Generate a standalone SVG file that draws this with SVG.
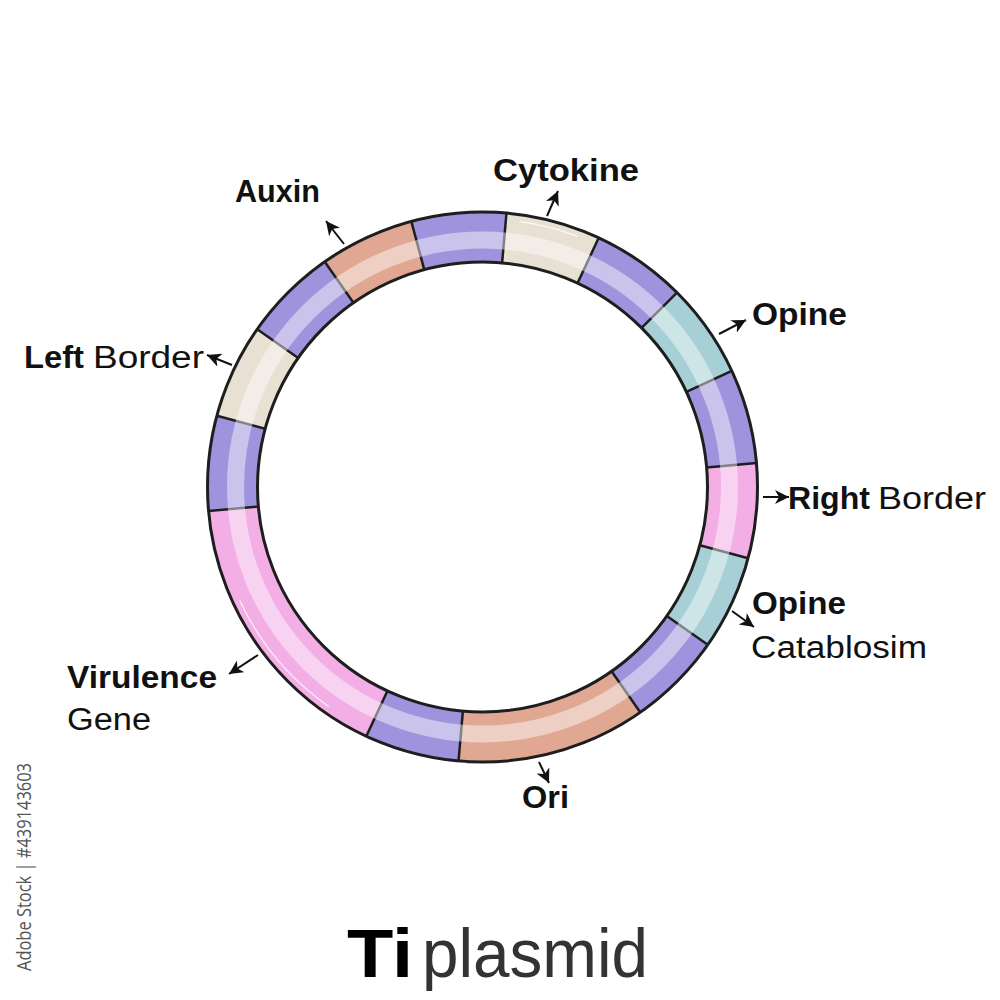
<svg xmlns="http://www.w3.org/2000/svg" width="1000" height="1000" viewBox="0 0 1000 1000">
<defs>
<style>
.seg{fill:none;stroke-width:50}
.pu{stroke:#9f93dd}.pk{stroke:#f3aee6}.te{stroke:#a7cfd6}.or{stroke:#e0a893}.be{stroke:#e7e0d3}
.bd{stroke:#1e1e1e;stroke-width:2.5}
.t{font-family:"Liberation Sans",Arial,Helvetica,sans-serif;font-size:31px;fill:#111}
.b{font-weight:bold}
.r{font-weight:normal}
.arr{stroke:#111;stroke-width:2;fill:none;marker-end:url(#ah)}
</style>
<marker id="ah" markerWidth="15" markerHeight="14" refX="14" refY="7" orient="auto" markerUnits="userSpaceOnUse">
<path d="M0,0 L14,7 L0,14 L4,7 z" fill="#111"/>
</marker>
</defs>
<rect width="1000" height="1000" fill="#ffffff"/>

<g id="ring">
<g id="segments">
<circle class="seg pk" cx="482.5" cy="487" r="250" stroke-dasharray="87.8 2000" transform="rotate(-5 482.5 487)"/>
<circle class="seg te" cx="482.5" cy="487" r="250" stroke-dasharray="87.8 2000" transform="rotate(15 482.5 487)"/>
<circle class="seg pu" cx="482.5" cy="487" r="250" stroke-dasharray="87.8 2000" transform="rotate(35 482.5 487)"/>
<circle class="seg or" cx="482.5" cy="487" r="250" stroke-dasharray="175 2000" transform="rotate(55 482.5 487)"/>
<circle class="seg pu" cx="482.5" cy="487" r="250" stroke-dasharray="87.8 2000" transform="rotate(95 482.5 487)"/>
<circle class="seg pk" cx="482.5" cy="487" r="250" stroke-dasharray="262.3 2000" transform="rotate(115 482.5 487)"/>
<circle class="seg pu" cx="482.5" cy="487" r="250" stroke-dasharray="87.8 2000" transform="rotate(175 482.5 487)"/>
<circle class="seg be" cx="482.5" cy="487" r="250" stroke-dasharray="87.8 2000" transform="rotate(195 482.5 487)"/>
<circle class="seg pu" cx="482.5" cy="487" r="250" stroke-dasharray="87.8 2000" transform="rotate(215 482.5 487)"/>
<circle class="seg or" cx="482.5" cy="487" r="250" stroke-dasharray="87.8 2000" transform="rotate(235 482.5 487)"/>
<circle class="seg pu" cx="482.5" cy="487" r="250" stroke-dasharray="87.8 2000" transform="rotate(255 482.5 487)"/>
<circle class="seg be" cx="482.5" cy="487" r="250" stroke-dasharray="87.8 2000" transform="rotate(275 482.5 487)"/>
<circle class="seg pu" cx="482.5" cy="487" r="250" stroke-dasharray="87.8 2000" transform="rotate(295 482.5 487)"/>
<circle class="seg te" cx="482.5" cy="487" r="250" stroke-dasharray="87.8 2000" transform="rotate(315 482.5 487)"/>
<circle class="seg pu" cx="482.5" cy="487" r="250" stroke-dasharray="87.8 2000" transform="rotate(335 482.5 487)"/>
</g>
<g id="boundaries">
<line class="bd" x1="707.5" y1="487" x2="757.5" y2="487" transform="rotate(-5 482.5 487)"/>
<line class="bd" x1="707.5" y1="487" x2="757.5" y2="487" transform="rotate(15 482.5 487)"/>
<line class="bd" x1="707.5" y1="487" x2="757.5" y2="487" transform="rotate(35 482.5 487)"/>
<line class="bd" x1="707.5" y1="487" x2="757.5" y2="487" transform="rotate(55 482.5 487)"/>
<line class="bd" x1="707.5" y1="487" x2="757.5" y2="487" transform="rotate(95 482.5 487)"/>
<line class="bd" x1="707.5" y1="487" x2="757.5" y2="487" transform="rotate(115 482.5 487)"/>
<line class="bd" x1="707.5" y1="487" x2="757.5" y2="487" transform="rotate(175 482.5 487)"/>
<line class="bd" x1="707.5" y1="487" x2="757.5" y2="487" transform="rotate(195 482.5 487)"/>
<line class="bd" x1="707.5" y1="487" x2="757.5" y2="487" transform="rotate(215 482.5 487)"/>
<line class="bd" x1="707.5" y1="487" x2="757.5" y2="487" transform="rotate(235 482.5 487)"/>
<line class="bd" x1="707.5" y1="487" x2="757.5" y2="487" transform="rotate(255 482.5 487)"/>
<line class="bd" x1="707.5" y1="487" x2="757.5" y2="487" transform="rotate(275 482.5 487)"/>
<line class="bd" x1="707.5" y1="487" x2="757.5" y2="487" transform="rotate(295 482.5 487)"/>
<line class="bd" x1="707.5" y1="487" x2="757.5" y2="487" transform="rotate(315 482.5 487)"/>
<line class="bd" x1="707.5" y1="487" x2="757.5" y2="487" transform="rotate(335 482.5 487)"/>
</g>
<circle id="stripe" cx="482.5" cy="487" r="247" fill="none" stroke="#ffffff" stroke-width="17" stroke-opacity="0.45"/>
<circle id="gloss1" cx="482.5" cy="487" r="268" fill="none" stroke="#ffffff" stroke-width="1.5" stroke-opacity="0.7" stroke-dasharray="60 2000" transform="rotate(278 482.5 487)"/>
<circle id="gloss2" cx="482.5" cy="487" r="268" fill="none" stroke="#ffffff" stroke-width="1.5" stroke-opacity="0.7" stroke-dasharray="140 2000" transform="rotate(125 482.5 487)"/>
<circle id="outer" cx="482.5" cy="487" r="275" fill="none" stroke="#1e1e1e" stroke-width="3"/>
<circle id="inner" cx="482.5" cy="487" r="225" fill="none" stroke="#1e1e1e" stroke-width="3"/>
</g>

<g id="connectors">
<line class="arr" x1="344" y1="244" x2="326" y2="221"/>
<line class="arr" x1="232" y1="365" x2="207" y2="355"/>
<line class="arr" x1="547" y1="216" x2="558" y2="191"/>
<line class="arr" x1="719" y1="334" x2="746" y2="320"/>
<line class="arr" x1="763" y1="497" x2="789" y2="497"/>
<line class="arr" x1="732" y1="611" x2="754" y2="627"/>
<line class="arr" x1="539" y1="762" x2="549" y2="783"/>
<line class="arr" x1="258" y1="655" x2="229" y2="674"/>
</g>

<g id="label-auxin"><text class="t b" x="235" y="202" textLength="85" lengthAdjust="spacingAndGlyphs">Auxin</text></g>
<g id="label-cytokine"><text class="t b" x="493" y="181" textLength="146" lengthAdjust="spacingAndGlyphs">Cytokine</text></g>
<g id="label-left-border"><text class="t b" x="24" y="368" textLength="60" lengthAdjust="spacingAndGlyphs">Left</text><text class="t r" x="93" y="368" textLength="111" lengthAdjust="spacingAndGlyphs">Border</text></g>
<g id="label-opine"><text class="t b" x="752" y="325" textLength="95" lengthAdjust="spacingAndGlyphs">Opine</text></g>
<g id="label-right-border"><text class="t b" x="788" y="509" textLength="82" lengthAdjust="spacingAndGlyphs">Right</text><text class="t r" x="878" y="509" textLength="108" lengthAdjust="spacingAndGlyphs">Border</text></g>
<g id="label-opine-catablosim"><text class="t b" x="752" y="614" textLength="94" lengthAdjust="spacingAndGlyphs">Opine</text><text class="t r" x="751" y="658" textLength="176" lengthAdjust="spacingAndGlyphs">Catablosim</text></g>
<g id="label-virulence"><text class="t b" x="67" y="688" textLength="150" lengthAdjust="spacingAndGlyphs">Virulence</text><text class="t r" x="67" y="730" textLength="84" lengthAdjust="spacingAndGlyphs">Gene</text></g>
<g id="label-ori"><text class="t b" x="522" y="808" textLength="47" lengthAdjust="spacingAndGlyphs">Ori</text></g>
<g id="title"><text class="t b" x="347" y="977" style="font-size:68px;fill:#000" textLength="66" lengthAdjust="spacingAndGlyphs">Ti</text><text class="t r" x="422" y="977" style="font-size:68px;fill:#333" textLength="226" lengthAdjust="spacingAndGlyphs">plasmid</text></g>
<text x="31" y="763" transform="rotate(-90 31 763)" text-anchor="end" textLength="208" lengthAdjust="spacingAndGlyphs" style="font-family:'Open Sans','Liberation Sans',sans-serif;font-size:20px;fill:#555">Adobe Stock | #439143603</text>
</svg>
